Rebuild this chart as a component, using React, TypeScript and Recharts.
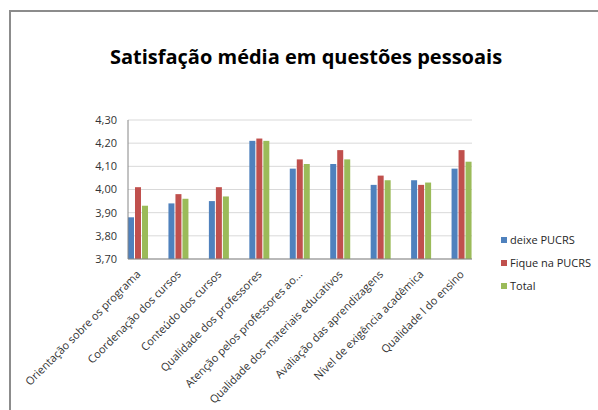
import { BarChart, Bar, XAxis, YAxis, CartesianGrid } from "recharts";

const categories = [
  "Orientação sobre os programa",
  "Coordenação dos cursos",
  "Conteúdo dos cursos",
  "Qualidade dos professores",
  "Atenção  pelos professores ao...",
  "Qualidade dos materiais educativos",
  "Avaliação das aprendizagens",
  "Nível de exigência acadêmica",
  "Qualidade l do ensino",
];

const deixe = [3.88, 3.94, 3.95, 4.21, 4.09, 4.11, 4.02, 4.04, 4.09];
const fique = [4.01, 3.98, 4.01, 4.22, 4.13, 4.17, 4.06, 4.02, 4.17];
const total = [3.93, 3.96, 3.97, 4.21, 4.11, 4.13, 4.04, 4.03, 4.12];

const yTicks = [3.7, 3.8, 3.9, 4.0, 4.1, 4.2, 4.3];

const series = [
  { key: "deixe", name: "deixe PUCRS", color: "#4F81BD" },
  { key: "fique", name: "Fique na PUCRS", color: "#C0504D" },
  { key: "total", name: "Total", color: "#9BBB59" },
];

const data = categories.map((name, i) => ({
  name,
  deixe: deixe[i],
  fique: fique[i],
  total: total[i],
}));

const FONT = "'Open Sans', 'Liberation Sans', sans-serif";

const CategoryTick = ({ x, y, payload }: any) => (
  <text
    x={x + 3}
    y={y + 8}
    transform={`rotate(-45, ${x + 3}, ${y + 8})`}
    textAnchor="end"
    fontSize={11}
    fontFamily={FONT}
    fill="#333"
  >
    {payload.value}
  </text>
);

export default function App() {
  return (
    <div
      style={{
        position: "fixed",
        left: 0,
        top: 0,
        width: 598,
        height: 410,
        background: "#fff",
        overflow: "hidden",
      }}
    >
      <div
        style={{
          position: "absolute",
          left: 9,
          top: 10,
          width: 620,
          height: 420,
          borderTop: "2px solid #8c8c8c",
          borderLeft: "2px solid #8c8c8c",
        }}
      />
      <div
        style={{
          position: "absolute",
          left: 0,
          width: 612,
          top: 43,
          textAlign: "center",
          fontFamily: FONT,
          fontWeight: 700,
          fontSize: 20,
          color: "#000",
        }}
      >
        Satisfação média em questões pessoais
      </div>
      <div style={{ position: "absolute", left: 0, top: 0 }}>
        <BarChart
          width={598}
          height={410}
          data={data}
          margin={{ top: 120, right: 126, bottom: 11, left: 78 }}
          barSize={6}
          barGap={1}
        >
          <CartesianGrid vertical={false} stroke="#d9d9d9" />
          <XAxis
            dataKey="name"
            interval={0}
            height={140}
            padding={{ left: -10, right: -10 }}
            tick={<CategoryTick />}
            tickLine={false}
            axisLine={{ stroke: "#868686" }}
          />
          <YAxis
            domain={[3.7, 4.3]}
            ticks={yTicks}
            width={50}
            tickSize={0}
            tickMargin={11}
            tickLine={false}
            axisLine={{ stroke: "#868686" }}
            tickFormatter={(v: number) => v.toFixed(2).replace(".", ",")}
            tick={{ fontSize: 11, fontFamily: FONT, fill: "#333" }}
            allowDataOverflow
          />
          {series.map((s) => (
            <Bar key={s.key} dataKey={s.key} name={s.name} fill={s.color} isAnimationActive={false} />
          ))}
        </BarChart>
      </div>
      <div style={{ position: "absolute", left: 501, top: 228, fontFamily: FONT }}>
        {series.map((s) => (
          <div
            key={s.key}
            style={{ display: "flex", alignItems: "center", height: 23, fontSize: 11, color: "#262626" }}
          >
            <span style={{ width: 6, height: 6, background: s.color, marginRight: 3, display: "inline-block" }} />
            {s.name}
          </div>
        ))}
      </div>
    </div>
  );
}
